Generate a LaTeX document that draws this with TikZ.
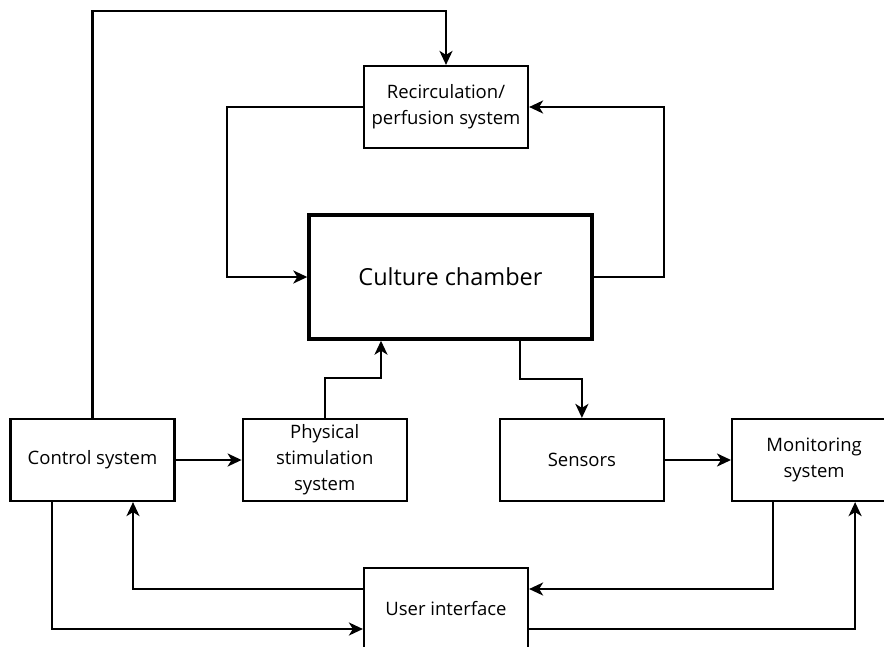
\documentclass[tikz,border=0pt]{standalone}
\usepackage{fontspec}
\setmainfont{Open Sans}
\usetikzlibrary{arrows.meta, positioning}
\tikzstyle{block} = [rectangle, minimum width=164pt, minimum height=82pt, align=center, draw=black, fill=white, line width=2.2pt, font=\fontsize{18.5}{26}\selectfont]
\tikzstyle{chamberbox} = [rectangle, minimum width=283pt, minimum height=124pt, align=center, draw=black, fill=white, line width=3.4pt, font=\fontsize{23.5}{28}\selectfont]
\tikzstyle{arrow} = [line width=2.2pt,->,>={Stealth[length=14pt,width=13pt,inset=4pt]}]

\begin{document}
\begin{tikzpicture}[x=1pt, y=1pt, node distance=66pt]
		\useasboundingbox (0,0) rectangle (884,-646);
		\node (chamber) [chamberbox] at (450.5,-277) {Culture chamber};
		\node (recirc) [block] at (446,-107) {Recirculation/\\perfusion system};
		\node (ctrl) [block] at (92.5,-460) {Control system};
		\node (phys) [block, right=of ctrl] {Physical\\stimulation\\system};
		\node (sens) [block, right=91pt of phys] {Sensors};
		\node (mon) [block, right=of sens] {Monitoring\\system};
		\node (ui) [block] at (446,-609) {User interface};
		\draw [arrow] (ctrl.north) -- ++(0,407) -| (recirc.north);
		\draw [arrow] (recirc.west) -- ++(-136,0) |- (chamber.west);
		\draw [arrow] (chamber.east) -- ++(70,0) |- (recirc.east);
		\draw [arrow] (phys.north) -- ++(0,40) -| ([xshift=-69.5pt]chamber.south);
		\draw [arrow] ([xshift=69.5pt]chamber.south) -- ++(0,-38) -| (sens.north);
		\draw [arrow] (ctrl) -- (phys);
		\draw [arrow] (sens) -- (mon);
		\draw [arrow] ([yshift=20pt]ui.west) -| ([xshift=40.5pt]ctrl.south);
		\draw [arrow] ([xshift=-40.5pt]ctrl.south) |- ([yshift=-20pt]ui.west);
		\draw [arrow] ([xshift=-41pt]mon.south) |- ([yshift=20pt]ui.east);
		\draw [arrow] ([yshift=-20pt]ui.east) -| ([xshift=41pt]mon.south);
	\end{tikzpicture}
\end{document}
